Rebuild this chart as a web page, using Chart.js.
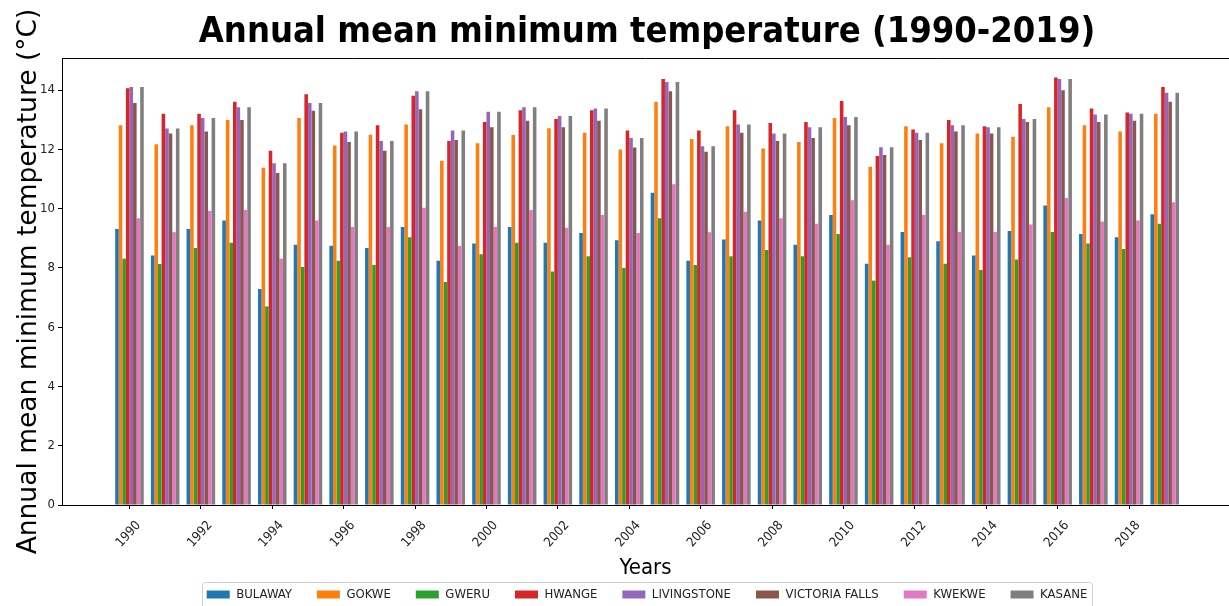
<!DOCTYPE html>
<html>
<head>
<meta charset="utf-8">
<title>Annual mean minimum temperature</title>
<script src="https://cdn.jsdelivr.net/npm/chart.js@4.4.0/dist/chart.umd.min.js"></script>
<style>
  html, body { margin: 0; padding: 0; background: #fff; }
  #wrap { width: 1229px; height: 606px; position: relative; }
</style>
</head>
<body>
<div id="wrap"><canvas id="tempChart"></canvas></div>
<script>
// DATA
const years = [1990, 1991, 1992, 1993, 1994, 1995, 1996, 1997, 1998, 1999,
               2000, 2001, 2002, 2003, 2004, 2005, 2006, 2007, 2008, 2009,
               2010, 2011, 2012, 2013, 2014, 2015, 2016, 2017, 2018, 2019]

const bulaway = [9.31, 8.42, 9.31, 9.60, 7.29, 8.78, 8.75, 8.67, 9.38, 8.24,
                 8.82, 9.38, 8.85, 9.18, 8.93, 10.53, 8.24, 8.96, 9.60, 8.78,
                 9.78, 8.14, 9.21, 8.90, 8.42, 9.24, 10.10, 9.14, 9.03, 9.81]
const gokwe = [12.81, 12.17, 12.81, 12.99, 11.38, 13.06, 12.13, 12.49, 12.84, 11.61,
               12.20, 12.48, 12.71, 12.56, 11.99, 13.60, 12.35, 12.78, 12.03, 12.25,
               13.06, 11.41, 12.78, 12.20, 12.53, 12.42, 13.42, 12.81, 12.60, 13.20]
const gweru = [8.31, 8.13, 8.67, 8.85, 6.70, 8.03, 8.24, 8.10, 9.03, 7.52,
               8.46, 8.85, 7.88, 8.39, 8.00, 9.67, 8.10, 8.39, 8.60, 8.39,
               9.14, 7.57, 8.36, 8.14, 7.93, 8.28, 9.21, 8.82, 8.64, 9.49]
const hwange = [14.06, 13.20, 13.20, 13.60, 11.95, 13.86, 12.56, 12.81, 13.81, 12.28,
                12.92, 13.32, 13.02, 13.32, 12.63, 14.37, 12.63, 13.32, 12.89, 12.92,
                13.63, 11.77, 12.67, 12.99, 12.78, 13.53, 14.42, 13.38, 13.24, 14.10]
const livingstone = [14.10, 12.70, 13.06, 13.42, 11.53, 13.56, 12.60, 12.28, 13.96, 12.63,
                     13.27, 13.42, 13.12, 13.38, 12.38, 14.27, 12.10, 12.84, 12.53, 12.74,
                     13.09, 12.07, 12.56, 12.81, 12.74, 13.02, 14.37, 13.17, 13.20, 13.91]
const victoriaFalls = [13.56, 12.53, 12.60, 12.99, 11.20, 13.30, 12.25, 11.95, 13.35, 12.31,
                       12.74, 12.96, 12.74, 12.96, 12.06, 13.96, 11.92, 12.56, 12.28, 12.38,
                       12.81, 11.81, 12.31, 12.60, 12.53, 12.92, 13.99, 12.92, 12.96, 13.60]
const kwekwe = [9.67, 9.20, 9.92, 9.95, 8.31, 9.60, 9.38, 9.38, 10.03, 8.74,
                9.38, 9.95, 9.35, 9.78, 9.18, 10.82, 9.20, 9.89, 9.67, 9.49,
                10.28, 8.78, 9.78, 9.21, 9.21, 9.46, 10.36, 9.56, 9.60, 10.21]
const kasane = [14.10, 12.70, 13.06, 13.42, 11.53, 13.56, 12.60, 12.28, 13.96, 12.63,
                13.27, 13.42, 13.12, 13.38, 12.38, 14.27, 12.10, 12.84, 12.53, 12.74,
                13.09, 12.07, 12.56, 12.81, 12.74, 13.02, 14.37, 13.17, 13.20, 13.91]

const seriesNames = ["BULAWAY", "GOKWE", "GWERU", "HWANGE", "LIVINGSTONE", "VICTORIA FALLS", "KWEKWE", "KASANE"]
const seriesValues = [bulaway, gokwe, gweru, hwange, livingstone, victoriaFalls, kwekwe, kasane]
const yTicks = [0, 2, 4, 6, 8, 10, 12, 14]

// matplotlib tab10
const seriesColors = ["#1f77b4", "#ff7f0e", "#2ca02c", "#d62728", "#9467bd", "#8c564b", "#e377c2", "#7f7f7f"]

const condensed = "'DejaVu Sans Condensed', 'DejaVu Sans', sans-serif"

// title + legend are centred on the plot area (not the canvas), plus top spine and legend frame
const framePlugin = {
    id: "frame",
    afterLayout(chart) {
        const a = chart.chartArea
        if (chart.titleBlock) {
            chart.titleBlock.left = a.left
            chart.titleBlock.right = a.right + 3
        }
        if (chart.legend) {
            chart.legend.left = a.left
            chart.legend.right = a.right + 3
        }
    },
    afterDatasetsDraw(chart) {
        const ctx = chart.ctx
        const a = chart.chartArea
        ctx.save()
        ctx.strokeStyle = "#000"
        ctx.lineWidth = 1
        ctx.beginPath()
        ctx.moveTo(a.left, a.top + 0.5)
        ctx.lineTo(a.right, a.top + 0.5)
        ctx.stroke()
        ctx.restore()
    },
    afterDraw(chart) {
        const hb = chart.legend.legendHitBoxes
        if (!hb || !hb.length) return
        const ctx = chart.ctx
        const last = hb[hb.length - 1]
        const x0 = Math.round(hb[0].left - 5) + 0.5
        const x1 = Math.round(last.left + last.width + 5) + 0.5
        const y0 = Math.round(hb[0].top - 6) + 0.5
        ctx.save()
        ctx.strokeStyle = "#d0d0d0"
        ctx.lineWidth = 1
        ctx.beginPath()
        ctx.roundRect(x0, y0, x1 - x0, 40, 3)
        ctx.stroke()
        ctx.restore()
    }
}

new Chart(document.getElementById("tempChart"), {
    type: "bar",
    data: {
        datasets: seriesNames.map((name, k) => ({
            label: name,
            data: seriesValues[k].map((v, i) => ({ x: i, y: v })),
            backgroundColor: seriesColors[k],
            borderWidth: 0,
            categoryPercentage: 0.8,
            barPercentage: 1.0
        }))
    },
    options: {
        responsive: true,
        maintainAspectRatio: false,
        animation: false,
        layout: { padding: { left: 0, right: 0, top: 0, bottom: -5 } },
        plugins: {
            title: {
                display: true,
                text: "Annual mean minimum temperature (1990-2019)",
                color: "#000",
                font: { family: condensed, size: 36, weight: "bold" },
                padding: { top: 11, bottom: 3.8 }
            },
            legend: {
                position: "bottom",
                labels: {
                    boxWidth: 23,
                    boxHeight: 8,
                    padding: 25,
                    color: "#222",
                    font: { family: condensed, size: 13 }
                }
            },
            tooltip: { enabled: false }
        },
        scales: {
            x: {
                type: "linear",
                min: -1.89,
                max: 30.8,
                offset: false,
                grid: { display: true, offset: false, drawOnChartArea: false, color: "#000", tickColor: "#000", tickLength: 4 },
                border: { display: true, color: "#000", width: 1 },
                ticks: {
                    stepSize: 2,
                    includeBounds: false,
                    autoSkip: false,
                    minRotation: 48,
                    maxRotation: 48,
                    padding: 9,
                    labelOffset: 9,
                    color: "#222",
                    font: { family: condensed, size: 13 },
                    callback: v => years[v]
                },
                afterBuildTicks: s => {
                    s.ticks = s.ticks.filter(t => Number.isInteger(t.value) && t.value >= 0 && t.value < years.length)
                },
                afterFit: s => { s.height = 58 },
                title: {
                    display: true,
                    text: "Years",
                    color: "#000",
                    font: { family: condensed, size: 22 },
                    padding: { top: 0, bottom: -18 }
                }
            },
            y: {
                min: 0,
                max: 15.08,
                grid: { display: true, drawOnChartArea: false, color: "#000", tickColor: "#000", tickLength: 4 },
                border: { display: true, color: "#000", width: 1 },
                ticks: {
                    stepSize: 2,
                    includeBounds: false,
                    padding: 3,
                    color: "#222",
                    font: { family: condensed, size: 13 }
                },
                afterBuildTicks: s => {
                    s.ticks = yTicks.map(v => ({ value: v }))
                },
                afterFit: s => { s.width = 62 },
                title: {
                    display: true,
                    text: "Annual mean minimum temperature (°C)",
                    color: "#000",
                    font: { family: "'DejaVu Sans', sans-serif", size: 26.5 },
                    padding: { top: 13.5, bottom: 0 }
                }
            }
        }
    },
    plugins: [framePlugin]
})
</script>
</body>
</html>
